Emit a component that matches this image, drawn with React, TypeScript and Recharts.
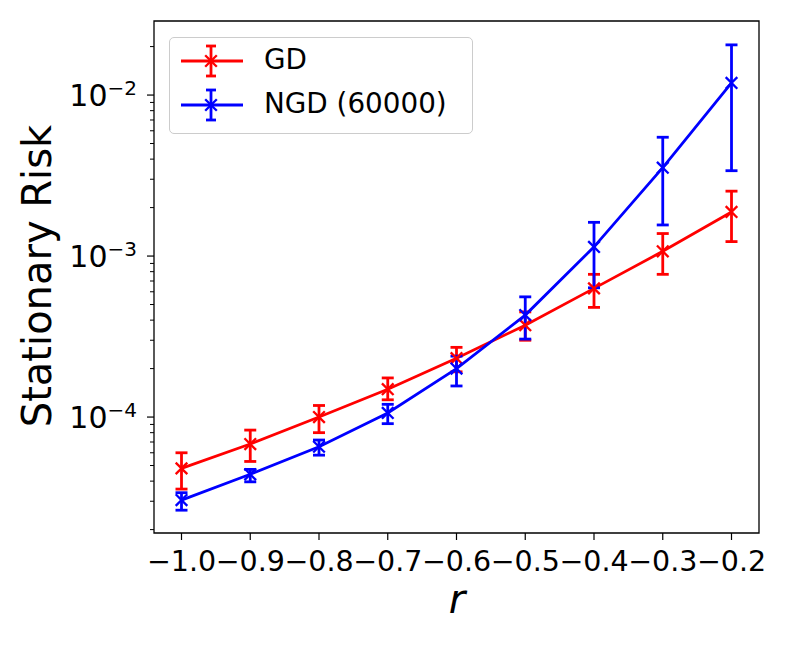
import React from "react";
import {
  ComposedChart,
  Line,
  XAxis,
  YAxis,
  ErrorBar,
  ReferenceArea,
} from "recharts";

const rValues = [-1.0, -0.9, -0.8, -0.7, -0.6, -0.5, -0.4, -0.3, -0.2];

// GD: mean with lower / upper error-bar ends
const gdMean = [4.8e-5, 6.8e-5, 1.0e-4, 1.49e-4, 2.32e-4, 3.72e-4, 6.3e-4, 1.07e-3, 1.88e-3];
const gdLow = [3.57e-5, 5.3e-5, 8.0e-5, 1.28e-4, 1.91e-4, 3.0e-4, 4.8e-4, 7.7e-4, 1.23e-3];
const gdHigh = [6.0e-5, 8.3e-5, 1.18e-4, 1.75e-4, 2.71e-4, 4.5e-4, 7.7e-4, 1.38e-3, 2.53e-3];

// NGD (60000)
const ngdMean = [3.05e-5, 4.41e-5, 6.54e-5, 1.06e-4, 2.0e-4, 4.3e-4, 1.14e-3, 3.54e-3, 1.19e-2];
const ngdLow = [2.64e-5, 3.96e-5, 5.8e-5, 9.1e-5, 1.56e-4, 3.05e-4, 6.35e-4, 1.56e-3, 3.39e-3];
const ngdHigh = [3.39e-5, 4.73e-5, 7.2e-5, 1.2e-4, 2.39e-4, 5.58e-4, 1.62e-3, 5.47e-3, 2.05e-2];

const xTicks = [-1.0, -0.9, -0.8, -0.7, -0.6, -0.5, -0.4, -0.3, -0.2];
const yMajorTicks = [1e-4, 1e-3, 1e-2];
const yMajorExponents = ["\u22124", "\u22123", "\u22122"];
const yMinorTicks = [
  2e-5, 3e-5, 4e-5, 5e-5, 6e-5, 7e-5, 8e-5, 9e-5,
  2e-4, 3e-4, 4e-4, 5e-4, 6e-4, 7e-4, 8e-4, 9e-4,
  2e-3, 3e-3, 4e-3, 5e-3, 6e-3, 7e-3, 8e-3, 9e-3,
  2e-2,
];

const seriesNames = ["GD", "NGD (60000)"];
const seriesColors = ["#ff0000", "#0000ff"];

const X_DOMAIN = [-1.04, -0.16];
const Y_DOMAIN = [1.905e-5, 2.884e-2];

const FONT = "'DejaVu Sans', sans-serif";
const LW = 2.8;

const data = rValues.map((r, i) => ({
  r,
  gd: gdMean[i],
  gdErr: [gdMean[i] - gdLow[i], gdHigh[i] - gdMean[i]],
  ngd: ngdMean[i],
  ngdErr: [ngdMean[i] - ngdLow[i], ngdHigh[i] - ngdMean[i]],
}));

const XMarker = (props: any) => {
  const { cx, cy, stroke } = props;
  if (cx == null || cy == null) return null;
  const s = 5.8;
  return (
    <g>
      <line x1={cx - s} y1={cy - s} x2={cx + s} y2={cy + s} stroke={stroke} strokeWidth={2.3} />
      <line x1={cx - s} y1={cy + s} x2={cx + s} y2={cy - s} stroke={stroke} strokeWidth={2.3} />
    </g>
  );
};

const XTick = (props: any) => {
  const { x, y, payload } = props;
  const label = payload.value.toFixed(1).replace("-", "\u2212");
  return (
    <g>
      <line x1={x} x2={x} y1={y} y2={y + 7} stroke="#000" strokeWidth={1.2} />
      <text x={x} y={y + 38} textAnchor="middle" fontSize={28.5} fontFamily={FONT} fill="#000">
        {label}
      </text>
    </g>
  );
};

const YTick = (props: any) => {
  const { x, y, payload } = props;
  const idx = yMajorTicks.findIndex((t) => Math.abs(t - payload.value) / t < 1e-6);
  if (idx < 0) {
    return <line x1={x - 4} x2={x} y1={y} y2={y} stroke="#000" strokeWidth={1} />;
  }
  return (
    <g>
      <line x1={x - 7} x2={x} y1={y} y2={y} stroke="#000" strokeWidth={1.2} />
      <text x={x - 17} y={y + 11} textAnchor="end" fontSize={30} fontFamily={FONT} fill="#000">
        <tspan>10</tspan>
        <tspan dy={-11} fontSize={20}>
          {yMajorExponents[idx]}
        </tspan>
      </text>
    </g>
  );
};

const LegendBox = () => (
  <div
    style={{
      position: "absolute",
      left: 169,
      top: 37,
      width: 302,
      height: 95,
      border: "1.3px solid #cccccc",
      borderRadius: 5,
      background: "rgba(255,255,255,0.8)",
      fontFamily: FONT,
      fontSize: 27.8,
      color: "#000",
    }}
  >
    {seriesNames.map((name, i) => {
      const cy = i === 0 ? 23 : 67;
      return (
        <div key={name}>
          <svg
            width={70}
            height={40}
            style={{ position: "absolute", left: 8, top: cy - 20 }}
          >
            <line x1={3} x2={65} y1={20} y2={20} stroke={seriesColors[i]} strokeWidth={LW} />
            <line x1={33} x2={33} y1={5} y2={35} stroke={seriesColors[i]} strokeWidth={LW} />
            <line x1={28} x2={38} y1={5} y2={5} stroke={seriesColors[i]} strokeWidth={LW} />
            <line x1={28} x2={38} y1={35} y2={35} stroke={seriesColors[i]} strokeWidth={LW} />
            <XMarker cx={33} cy={20} stroke={seriesColors[i]} />
          </svg>
          <span
            style={{
              position: "absolute",
              left: 94,
              top: cy - 18,
              lineHeight: "34px",
              whiteSpace: "nowrap",
            }}
          >
            {name}
          </span>
        </div>
      );
    })}
  </div>
);

export default function App() {
  return (
    <div style={{ position: "absolute", left: 0, top: 0, width: 789, height: 646, background: "#fff" }}>
      <ComposedChart
        width={789}
        height={646}
        data={data}
        margin={{ top: 21, right: 30, bottom: 0, left: 0 }}
      >
        <XAxis
          dataKey="r"
          type="number"
          domain={X_DOMAIN}
          allowDataOverflow
          ticks={xTicks}
          interval={0}
          tick={<XTick />}
          tickLine={false}
          tickSize={0}
          tickMargin={0}
          axisLine={false}
          height={113}
          label={{
            value: "r",
            content: () => (
              <text
                x={457}
                y={613}
                textAnchor="middle"
                fontSize={40}
                fontStyle="italic"
                fontFamily={FONT}
                fill="#000"
              >
                r
              </text>
            ),
          }}
        />
        <YAxis
          type="number"
          scale="log"
          domain={Y_DOMAIN}
          allowDataOverflow
          ticks={[...yMinorTicks, ...yMajorTicks].sort((a, b) => a - b)}
          interval={0}
          tick={<YTick />}
          tickLine={false}
          tickSize={0}
          tickMargin={0}
          axisLine={false}
          width={154}
          label={{
            value: "Stationary Risk",
            content: () => (
              <text
                x={51}
                y={276}
                transform="rotate(-90 51 276)"
                textAnchor="middle"
                fontSize={40}
                fontFamily={FONT}
                fill="#000"
              >
                Stationary Risk
              </text>
            ),
          }}
        />
        <ReferenceArea
          x1={X_DOMAIN[0]}
          x2={X_DOMAIN[1]}
          y1={Y_DOMAIN[0]}
          y2={Y_DOMAIN[1]}
          fill="none"
          stroke="#000"
          strokeWidth={1.3}
          ifOverflow="extendDomain"
        />
        <Line
          dataKey="gd"
          name={seriesNames[0]}
          stroke={seriesColors[0]}
          strokeWidth={LW}
          dot={<XMarker />}
          activeDot={false}
          isAnimationActive={false}
        >
          <ErrorBar
            dataKey="gdErr"
            direction="y"
            width={6}
            stroke={seriesColors[0]}
            strokeWidth={LW}
            isAnimationActive={false}
          />
        </Line>
        <Line
          dataKey="ngd"
          name={seriesNames[1]}
          stroke={seriesColors[1]}
          strokeWidth={LW}
          dot={<XMarker />}
          activeDot={false}
          isAnimationActive={false}
        >
          <ErrorBar
            dataKey="ngdErr"
            direction="y"
            width={6}
            stroke={seriesColors[1]}
            strokeWidth={LW}
            isAnimationActive={false}
          />
        </Line>
      </ComposedChart>
      <LegendBox />
    </div>
  );
}
